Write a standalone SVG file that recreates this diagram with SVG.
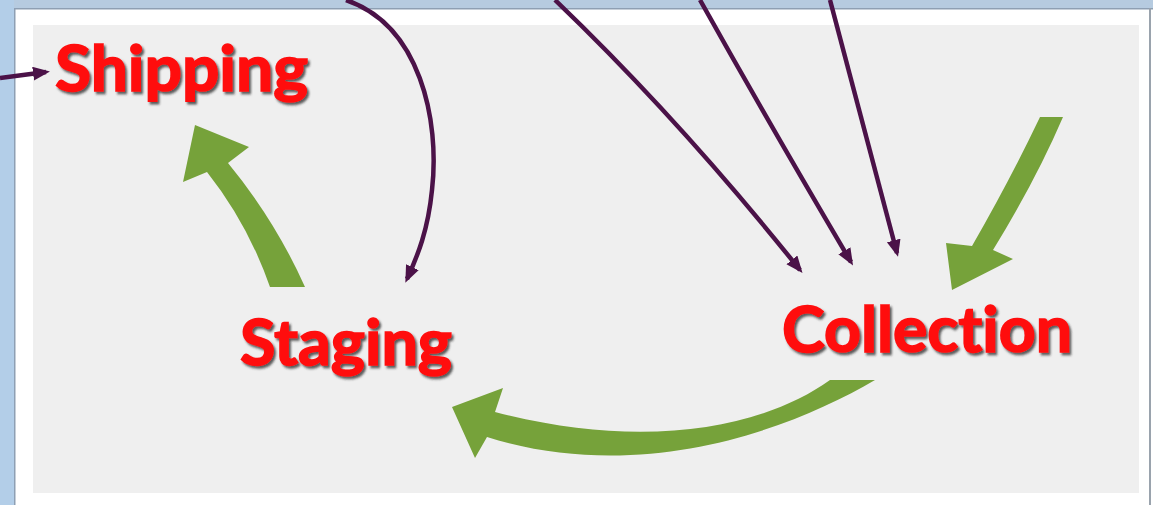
<svg xmlns="http://www.w3.org/2000/svg" width="1153" height="505" viewBox="0 0 1153 505">
<defs>
<style>
.lbl{font-family:Lato,"Open Sans","Liberation Sans",sans-serif;font-weight:700;font-size:64px;fill:#ff0a0a;stroke:#ff0a0a;stroke-width:1.6;font-variant-ligatures:none;filter:url(#shadow)}
.con{fill:none;stroke:#4b1248;stroke-width:4.5;marker-end:url(#ah)}
.grn{fill:#76a23a}
</style>
<filter id="shadow" x="-10%" y="-20%" width="120%" height="150%">
<feDropShadow dx="2" dy="2.5" stdDeviation="1" flood-color="#2a2a2a" flood-opacity="0.75"/>
</filter>
<marker id="ah" markerUnits="userSpaceOnUse" markerWidth="20" markerHeight="16" refX="13" refY="7" orient="auto">
<path d="M0,0 L17,7 L0,14 Z" fill="#4b1248"/>
</marker>
</defs>
<g id="frame">
<rect x="0" y="0" width="1153" height="505" fill="#ffffff"/>
<rect x="0" y="0" width="1153" height="8" fill="#b6cbe0"/>
<rect x="0" y="0" width="14" height="505" fill="#b3cee8"/>
<rect x="14" y="8" width="1139" height="1.5" fill="#8e9fb3"/>
<rect x="14" y="8" width="1.5" height="497" fill="#8e9fb3"/>
<rect x="1149" y="8" width="2" height="497" fill="#9aa3ad"/>
<rect x="33" y="25" width="1106" height="468" fill="#efefef"/>
</g>
<g id="arrows-green">
<path class="grn" d="M 270 287 Q 248 224 207 172 L 183 182 L 195 125 L 249 147 L 228 163 Q 275 220 305 287 Z"/>
<path class="grn" d="M 1040 117 Q 1010 180 972 246 L 946 243 L 952 290 L 1013 259 L 993 250 Q 1036 180 1063 117 Z"/>
<path class="grn" d="M 830 380 C 760 430 640 450 495 412 L 503 388 L 452 407 L 475 458 L 487 437 C 640 485 790 430 875 380 Z"/>
</g>
<g id="connectors">
<path class="con" d="M 0 78 L 46 72"/>
<path class="con" d="M 346 0 C 420 25 440 120 432 190 C 428 230 418 255 407 279"/>
<path class="con" d="M 555 0 Q 680 120 800 270"/>
<path class="con" d="M 700 0 Q 770 125 851 262"/>
<path class="con" d="M 830 0 Q 862 120 897 253"/>
</g>
<g id="shipping"><text class="lbl" x="55" y="91" textLength="253" lengthAdjust="spacingAndGlyphs">Shipping</text></g>
<g id="staging"><text class="lbl" x="240" y="365" textLength="212" lengthAdjust="spacingAndGlyphs">Staging</text></g>
<g id="collection"><text class="lbl" x="782" y="352" textLength="290" lengthAdjust="spacingAndGlyphs">Collection</text></g>
</svg>
